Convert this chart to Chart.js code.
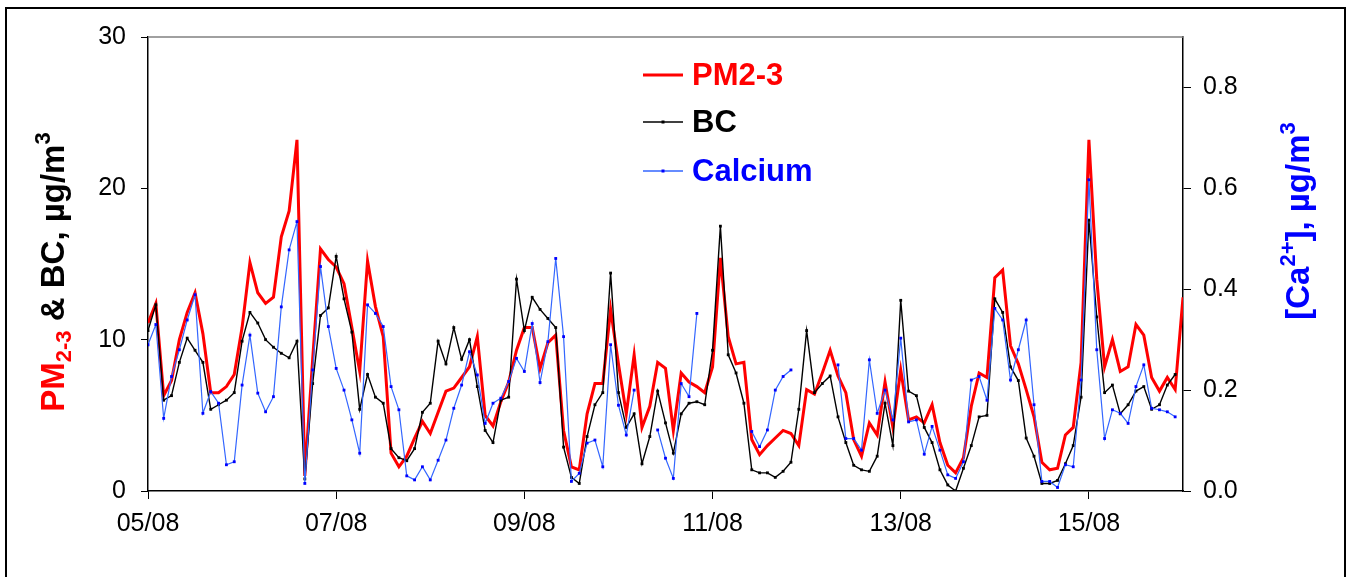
<!DOCTYPE html>
<html>
<head>
<meta charset="utf-8">
<script src="https://cdn.jsdelivr.net/npm/chart.js@4.4.0/dist/chart.umd.min.js"></script>
<style>
  html, body { margin: 0; padding: 0; background: #fff; }
  #wrap { width: 1350px; height: 577px; }
</style>
</head>
<body>
<div id="wrap"><canvas id="chart" width="1350" height="577"></canvas></div>
<script>
// x axis: one point every 2 hours from 05/08 00:00, labels every 2 days
var dayLabels = ['05/08', '07/08', '09/08', '11/08', '13/08', '15/08'];
var hoursPerPoint = 2;
var hoursPerLabel = 48;

// PM2-3, µg/m3 (left axis)
var pm23 = [
  11.1, 12.4, 6.3, 7.3, 10.0, 11.8, 13.1, 10.4, 6.5, 6.5, 6.9, 7.7,
  10.8, 15.1, 13.1, 12.4, 12.8, 16.8, 18.5, 23.2, 1.0, 8.7, 16.0, 15.3,
  14.8, 13.7, 10.8, 7.9, 15.2, 12.2, 10.2, 2.5, 1.6, 2.3, 3.5, 4.6,
  3.8, 5.2, 6.6, 6.8, 7.5, 8.2, 10.2, 5.0, 4.3, 5.9, 7.2, 9.3,
  10.8, 10.8, 8.1, 9.8, 10.3, 4.0, 1.6, 1.4, 5.1, 7.1, 7.1, 12.0,
  8.4, 5.1, 9.0, 4.2, 5.6, 8.5, 8.1, 4.0, 7.8, 7.2, 6.9, 6.5,
  8.2, 15.4, 10.2, 8.4, 8.5, 3.4, 2.4, 3.0, 3.5, 4.0, 3.8, 3.0,
  6.7, 6.4, 7.8, 9.3, 7.6, 6.5, 3.4, 2.3, 4.5, 3.7, 7.2, 4.2,
  8.0, 4.7, 4.9, 4.5, 5.7, 3.2, 1.7, 1.2, 2.2, 5.6, 7.8, 7.5,
  14.1, 14.6, 9.6, 8.4, 6.7, 4.9, 1.9, 1.4, 1.5, 3.7, 4.2, 8.5,
  23.2, 14.0, 8.2, 10.0, 7.9, 8.2, 11.0, 10.3, 7.5, 6.6, 7.5, 6.7,
  12.8
];

// BC, µg/m3 (left axis)
var bc = [
  10.6, 12.3, 6.0, 6.3, 8.5, 10.1, 9.3, 8.5, 5.4, 5.7, 6.0, 6.5,
  9.9, 11.8, 11.1, 10.0, 9.5, 9.1, 8.8, 9.9, 0.8, 7.1, 11.6, 12.1,
  15.5, 12.7, 10.5, 5.4, 7.7, 6.2, 5.8, 2.8, 2.2, 2.0, 2.8, 5.2,
  5.8, 9.9, 8.4, 10.8, 8.7, 10.0, 6.9, 4.0, 3.2, 6.0, 6.2, 14.0,
  10.6, 12.8, 12.0, 11.4, 10.8, 2.9, 0.9, 0.5, 3.6, 5.7, 6.5, 14.4,
  6.5, 4.2, 5.1, 1.8, 3.6, 6.6, 4.5, 2.5, 5.1, 5.8, 5.9, 5.7,
  9.3, 17.5, 9.0, 7.8, 5.8, 1.4, 1.2, 1.2, 0.9, 1.3, 1.9, 5.4,
  10.6, 6.5, 7.1, 7.6, 4.9, 3.2, 1.7, 1.4, 1.3, 2.3, 5.8, 3.0,
  12.6, 6.6, 6.3, 4.2, 3.2, 1.4, 0.4, 0.0, 1.5, 3.0, 4.9, 5.0,
  12.7, 11.8, 8.2, 7.3, 3.5, 2.3, 0.5, 0.5, 0.7, 1.8, 3.0, 6.2,
  17.9, 11.5, 6.5, 7.0, 5.1, 5.7, 6.6, 6.9, 5.4, 5.7, 7.0, 7.7,
  null
];

// Calcium [Ca2+], µg/m3 (right axis), null = no sample
var calcium = [
  0.29, 0.33, 0.144, 0.227, 0.28, 0.339, 0.389, 0.154, 0.197, 0.174, 0.052, 0.058,
  0.21, 0.309, 0.194, 0.157, 0.187, 0.365, 0.478, 0.534, 0.015, 0.24, 0.445, 0.326,
  0.243, 0.2, 0.141, 0.075, 0.369, 0.352, 0.326, 0.207, 0.161, 0.03, 0.022, 0.048,
  0.022, 0.061, 0.101, 0.164, 0.21, 0.276, 0.23, 0.134, 0.174, 0.184, 0.217, 0.263,
  0.237, 0.332, 0.215, 0.296, 0.461, 0.306, 0.019, 0.035, 0.095, 0.101, 0.048, 0.29,
  0.17, 0.111, 0.2, null, null, 0.121, 0.065, 0.025, 0.213, 0.187, 0.352, null,
  null, null, null, null, null, 0.118, 0.088, 0.121, 0.2, 0.227, 0.24, null,
  null, null, null, null, 0.25, 0.104, 0.104, 0.081, 0.26, 0.154, 0.2, 0.141,
  0.303, 0.137, 0.141, 0.073, 0.128, 0.081, 0.032, 0.025, 0.058, 0.22, 0.227, 0.18,
  0.362, 0.339, 0.22, 0.28, 0.339, 0.171, 0.019, 0.019, 0.007, 0.052, 0.048, 0.22,
  0.617, 0.28, 0.104, 0.161, 0.154, 0.134, 0.207, 0.25, 0.164, 0.161, 0.157, 0.147,
  null
];

var leftTicks = [0, 10, 20, 30];
var rightTicks = [0, 0.2, 0.4, 0.6, 0.8];

var FONT = '"Liberation Sans", Arial, sans-serif';
var RED = '#ff0000', BLUE = '#0000ff', BLUE_LINE = '#3366ff';

function toPoints(values) {
  return values.map(function (v, i) { return { x: i * hoursPerPoint, y: v }; });
}

// draws a rotated title made of several runs (colours, sub/superscripts)
function drawRuns(ctx, cx, cy, runs) {
  ctx.save();
  ctx.translate(cx, cy);
  ctx.rotate(-Math.PI / 2);
  ctx.textBaseline = 'middle';
  var total = 0;
  runs.forEach(function (r) { ctx.font = r.font; r.w = ctx.measureText(r.text).width; total += r.w; });
  var x = -total / 2;
  runs.forEach(function (r) {
    ctx.font = r.font;
    ctx.fillStyle = r.color;
    ctx.fillText(r.text, x, r.dy || 0);
    x += r.w;
  });
  ctx.restore();
}

var decorations = {
  id: 'decorations',
  beforeDraw: function (chart) {
    var ctx = chart.ctx;
    ctx.save();
    ctx.fillStyle = '#fff';
    ctx.fillRect(0, 0, chart.width, chart.height);
    ctx.restore();
  },
  afterDraw: function (chart) {
    var ctx = chart.ctx, a = chart.chartArea;
    ctx.save();
    // outer frame
    ctx.strokeStyle = '#000';
    ctx.lineWidth = 2;
    ctx.strokeRect(6, 8, 1339, 600);
    // top edge of the plot area
    ctx.strokeStyle = '#808080';
    ctx.lineWidth = 1.5;
    ctx.beginPath();
    ctx.moveTo(a.left, a.top);
    ctx.lineTo(a.right, a.top);
    ctx.stroke();
    ctx.restore();

    var big = 'bold 33px ' + FONT, small = 'bold 22px ' + FONT;
    drawRuns(ctx, 55, 272, [
      { text: 'PM', font: big, color: RED },
      { text: '2-3', font: small, color: RED, dy: 10 },
      { text: ' & BC, \u00b5g/m', font: big, color: '#000' },
      { text: '3', font: small, color: '#000', dy: -11 }
    ]);
    drawRuns(ctx, 1300, 221, [
      { text: '[Ca', font: big, color: BLUE },
      { text: '2+', font: small, color: BLUE, dy: -11 },
      { text: '], \u00b5g/m', font: big, color: BLUE },
      { text: '3', font: small, color: BLUE, dy: -11 }
    ]);

    // legend
    var items = [
      { text: 'PM2-3', color: RED, line: RED, width: 3, marker: null, y: 75 },
      { text: 'BC', color: '#000', line: '#000', width: 1.5, marker: '#000', y: 122 },
      { text: 'Calcium', color: BLUE, line: BLUE_LINE, width: 1.5, marker: BLUE, y: 171 }
    ];
    ctx.save();
    items.forEach(function (it) {
      ctx.strokeStyle = it.line;
      ctx.lineWidth = it.width;
      ctx.beginPath();
      ctx.moveTo(643, it.y);
      ctx.lineTo(683, it.y);
      ctx.stroke();
      if (it.marker) {
        ctx.fillStyle = it.marker;
        ctx.fillRect(661.5, it.y - 1.5, 3, 3);
      }
      ctx.font = 'bold 31px ' + FONT;
      ctx.fillStyle = it.color;
      ctx.textBaseline = 'middle';
      ctx.fillText(it.text, 692, it.y + 1);
    });
    ctx.restore();
  }
};

var tickFont = { family: FONT, size: 25 };

new Chart(document.getElementById('chart').getContext('2d'), {
  type: 'line',
  data: {
    datasets: [
      {
        label: 'PM2-3',
        data: toPoints(pm23),
        borderColor: RED,
        borderWidth: 3,
        pointRadius: 0,
        yAxisID: 'y',
        order: 3
      },
      {
        label: 'BC',
        data: toPoints(bc),
        borderColor: '#000',
        borderWidth: 1.4,
        pointStyle: 'rect',
        pointRadius: 2,
        pointBorderWidth: 0,
        pointBackgroundColor: '#000',
        yAxisID: 'y',
        order: 2
      },
      {
        label: 'Calcium',
        data: toPoints(calcium),
        borderColor: BLUE_LINE,
        borderWidth: 1.2,
        pointStyle: 'rect',
        pointRadius: 2,
        pointBorderWidth: 0,
        pointBackgroundColor: BLUE,
        spanGaps: false,
        yAxisID: 'y1',
        order: 1
      }
    ]
  },
  options: {
    responsive: false,
    animation: false,
    devicePixelRatio: 1,
    layout: { padding: { top: 37, left: 0, right: 0, bottom: 0 } },
    plugins: { legend: { display: false }, tooltip: { enabled: false } },
    scales: {
      x: {
        type: 'linear',
        min: 0,
        max: (pm23.length - 1) * hoursPerPoint,
        afterBuildTicks: function (s) {
          s.ticks = dayLabels.map(function (_, i) { return { value: i * hoursPerLabel }; });
        },
        afterFit: function (s) { s.height = 86; },
        ticks: {
          autoSkip: false,
          maxRotation: 0,
          padding: 10,
          color: '#000',
          font: tickFont,
          callback: function (v) { return dayLabels[Math.round(v / hoursPerLabel)]; }
        },
        grid: { drawOnChartArea: false, tickLength: 8, color: '#000', lineWidth: 1 },
        border: { color: '#000', width: 1.5 }
      },
      y: {
        position: 'left',
        min: 0,
        max: 30,
        afterBuildTicks: function (s) {
          s.ticks = leftTicks.map(function (v) { return { value: v }; });
        },
        afterFit: function (s) { s.width = 148; },
        ticks: { padding: 15, color: '#000', font: tickFont },
        grid: { drawOnChartArea: false, tickLength: 7, color: '#000', lineWidth: 1 },
        border: { color: '#000', width: 1.5 }
      },
      y1: {
        position: 'right',
        min: 0,
        max: 0.9,
        afterBuildTicks: function (s) {
          s.ticks = rightTicks.map(function (v) { return { value: v }; });
        },
        afterFit: function (s) { s.width = 167; },
        ticks: {
          padding: 12,
          color: '#000',
          font: tickFont,
          callback: function (v) { return v.toFixed(1); }
        },
        grid: { drawOnChartArea: false, tickLength: 8, color: '#000', lineWidth: 1 },
        border: { color: '#000', width: 1.5 }
      }
    }
  },
  plugins: [decorations]
});
</script>
</body>
</html>
